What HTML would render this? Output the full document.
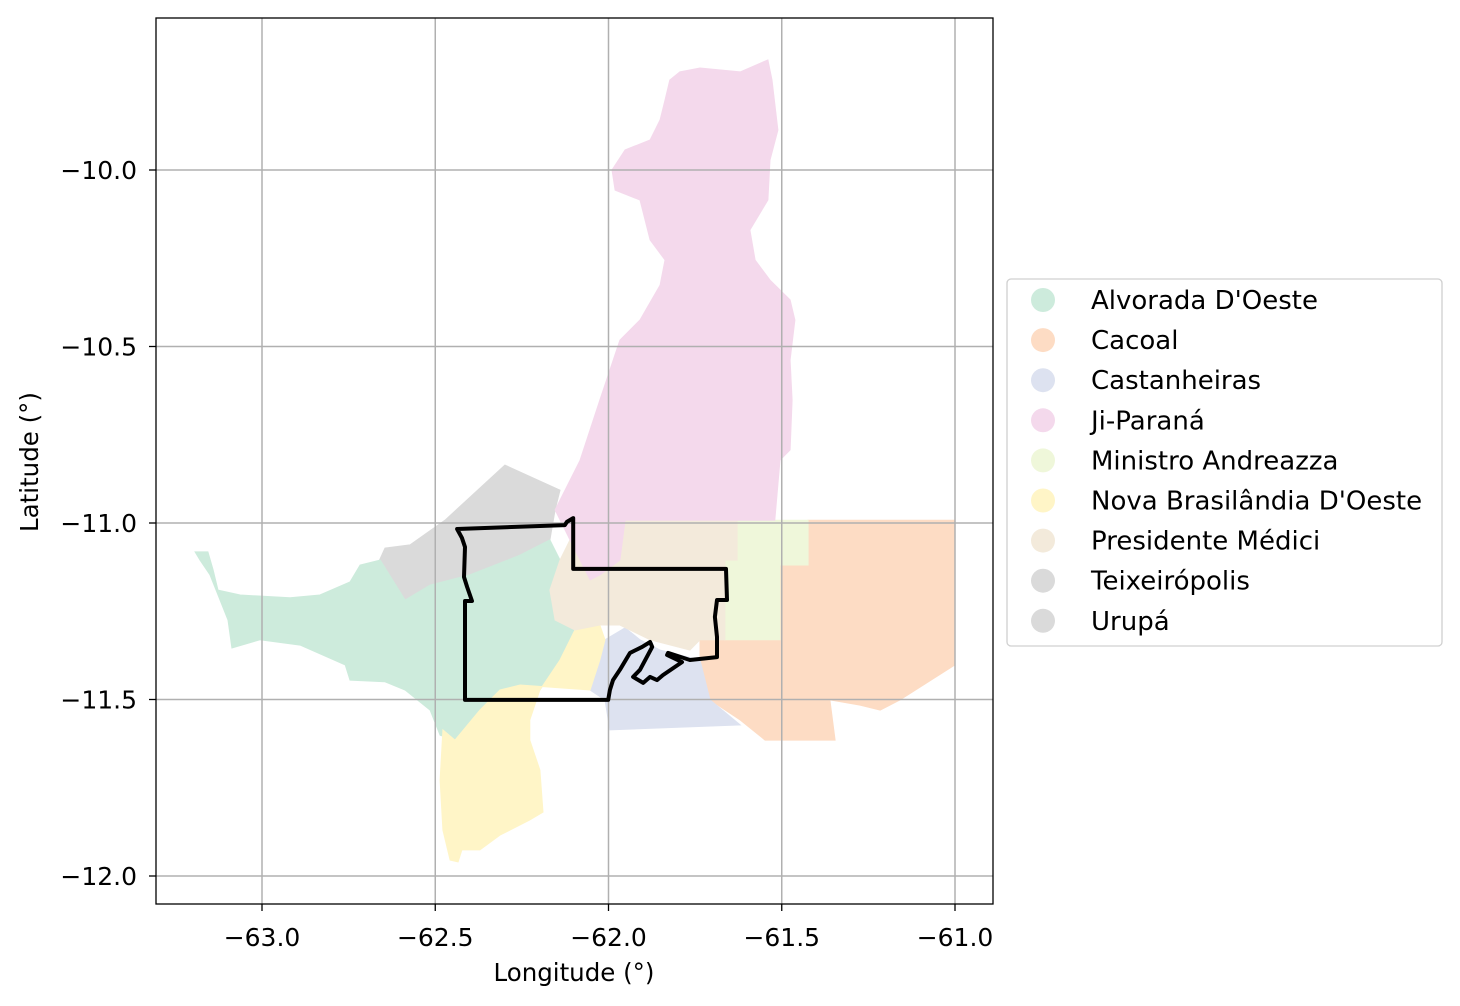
<!DOCTYPE html>
<html><head><meta charset="utf-8"><style>
html,body{margin:0;padding:0;background:#fff;}
svg{display:block;font-family:"DejaVu Sans","Liberation Sans",sans-serif;}
</style></head><body>
<svg id="chart" width="1460" height="1006" viewBox="0 0 1460 1006">
<rect x="0" y="0" width="1460" height="1006" fill="#fff"/>
<g id="regions"></g>
<g id="grid"></g>
<g id="outline"></g>
<rect x="156" y="18" width="837" height="886" fill="none" stroke="#000" stroke-width="1.3"/>
<g id="ticks"></g>
<text x="574" y="981" font-size="24.5" text-anchor="middle">Longitude (°)</text>
<text transform="translate(38,462) rotate(-90)" font-size="24.5" text-anchor="middle">Latitude (°)</text>
<g id="legend"></g>
</svg>
<script>
const names = ["Alvorada D'Oeste","Cacoal","Castanheiras","Ji-Paraná","Ministro Andreazza","Nova Brasilândia D'Oeste","Presidente Médici","Teixeirópolis","Urupá"];
const colors = ["#cdebdc","#fddcc4","#dde2f0","#f4d9ec","#eff7da","#fff5c7","#f3eadb","#dadada","#dadada"];
const xTicks = [-63.0,-62.5,-62.0,-61.5,-61.0];
const yTicks = [-10.0,-10.5,-11.0,-11.5,-12.0];
const xTickLabels = ["−63.0","−62.5","−62.0","−61.5","−61.0"];
const yTickLabels = ["−10.0","−10.5","−11.0","−11.5","−12.0"];
const grayShape = [[-62.674,-11.133],[-62.645,-11.071],[-62.573,-11.062],[-62.472,-10.992],[-62.299,-10.836],[-62.140,-10.907],[-62.154,-10.963],[-62.169,-11.048],[-62.198,-11.062],[-62.255,-11.091],[-62.400,-11.147],[-62.515,-11.176],[-62.587,-11.218]];
const alvorada = [[-63.193,-11.082],[-63.156,-11.082],[-63.141,-11.133],[-63.127,-11.190],[-63.063,-11.204],[-62.919,-11.212],[-62.833,-11.204],[-62.746,-11.167],[-62.717,-11.119],[-62.659,-11.105],[-62.587,-11.218],[-62.515,-11.176],[-62.400,-11.147],[-62.255,-11.091],[-62.198,-11.062],[-62.169,-11.048],[-62.140,-11.105],[-62.169,-11.190],[-62.154,-11.275],[-62.097,-11.303],[-62.140,-11.388],[-62.198,-11.473],[-62.313,-11.473],[-62.371,-11.530],[-62.443,-11.615],[-62.486,-11.601],[-62.515,-11.530],[-62.587,-11.473],[-62.645,-11.450],[-62.746,-11.445],[-62.760,-11.402],[-62.890,-11.346],[-63.006,-11.331],[-63.087,-11.354],[-63.098,-11.275],[-63.127,-11.204],[-63.150,-11.147],[-63.179,-11.105]];
const cacoal = [[-61.424,-10.992],[-61.000,-10.992],[-61.000,-11.402],[-61.159,-11.501],[-61.216,-11.530],[-61.274,-11.516],[-61.361,-11.501],[-61.346,-11.615],[-61.548,-11.615],[-61.620,-11.558],[-61.707,-11.501],[-61.736,-11.445],[-61.736,-11.331],[-61.505,-11.331],[-61.505,-11.119],[-61.424,-11.119]];
const castanheiras = [[-62.010,-11.331],[-61.952,-11.297],[-61.909,-11.331],[-61.851,-11.360],[-61.736,-11.388],[-61.707,-11.501],[-61.620,-11.572],[-61.996,-11.586],[-62.010,-11.501],[-62.053,-11.473],[-62.025,-11.388]];
const jiParana = [[-61.794,-9.722],[-61.736,-9.711],[-61.620,-9.722],[-61.540,-9.688],[-61.528,-9.745],[-61.511,-9.887],[-61.534,-9.972],[-61.540,-10.085],[-61.592,-10.170],[-61.577,-10.255],[-61.534,-10.312],[-61.476,-10.368],[-61.462,-10.425],[-61.476,-10.538],[-61.470,-10.652],[-61.476,-10.793],[-61.505,-10.822],[-61.520,-10.992],[-61.952,-10.992],[-61.967,-11.105],[-62.025,-11.147],[-62.053,-11.161],[-62.111,-11.048],[-62.154,-10.963],[-62.082,-10.822],[-62.025,-10.652],[-61.967,-10.482],[-61.909,-10.425],[-61.851,-10.326],[-61.837,-10.255],[-61.880,-10.198],[-61.909,-10.085],[-61.981,-10.057],[-61.990,-10.000],[-61.952,-9.943],[-61.880,-9.915],[-61.851,-9.858],[-61.837,-9.802],[-61.823,-9.745]];
const ministro = [[-61.629,-10.992],[-61.424,-10.992],[-61.424,-11.119],[-61.505,-11.119],[-61.505,-11.331],[-61.664,-11.331],[-61.664,-11.105],[-61.629,-11.105]];
const novaBrasilandia = [[-62.097,-11.303],[-62.025,-11.289],[-62.010,-11.331],[-62.025,-11.388],[-62.053,-11.473],[-62.255,-11.459],[-62.313,-11.473],[-62.371,-11.530],[-62.443,-11.615],[-62.478,-11.586],[-62.486,-11.728],[-62.478,-11.870],[-62.457,-11.955],[-62.434,-11.960],[-62.423,-11.926],[-62.371,-11.926],[-62.313,-11.884],[-62.227,-11.841],[-62.189,-11.819],[-62.198,-11.700],[-62.227,-11.615],[-62.227,-11.558],[-62.198,-11.473],[-62.140,-11.388]];
const presidente = [[-61.952,-10.992],[-61.629,-10.992],[-61.629,-11.105],[-61.664,-11.105],[-61.664,-11.331],[-61.736,-11.331],[-61.765,-11.360],[-61.880,-11.331],[-61.967,-11.289],[-62.025,-11.289],[-62.097,-11.303],[-62.154,-11.275],[-62.169,-11.190],[-62.140,-11.105],[-62.111,-11.048],[-62.053,-11.161],[-62.025,-11.147],[-61.967,-11.105]];
const studyArea = [[-62.437,-11.017],[-62.423,-11.042],[-62.414,-11.068],[-62.417,-11.153],[-62.408,-11.181],[-62.394,-11.221],[-62.414,-11.221],[-62.414,-11.501],[-62.001,-11.501],[-61.996,-11.473],[-61.987,-11.445],[-61.967,-11.416],[-61.938,-11.368],[-61.903,-11.351],[-61.880,-11.337],[-61.874,-11.351],[-61.909,-11.416],[-61.929,-11.436],[-61.900,-11.453],[-61.880,-11.436],[-61.860,-11.445],[-61.843,-11.431],[-61.788,-11.394],[-61.831,-11.374],[-61.828,-11.368],[-61.765,-11.388],[-61.687,-11.380],[-61.687,-11.323],[-61.693,-11.266],[-61.687,-11.218],[-61.658,-11.218],[-61.661,-11.130],[-61.823,-11.130],[-62.102,-11.130],[-62.102,-10.986],[-62.120,-10.997],[-62.126,-11.006]];

const X = lon => 262 + (lon + 63) * 346.5;
const Y = lat => 170 + (-10 - lat) * 353;
const NS = "http://www.w3.org/2000/svg";
const mk = (t, a) => { const e = document.createElementNS(NS, t); for (const k in a) e.setAttribute(k, a[k]); return e; };
const pts = arr => arr.map(p => X(p[0]).toFixed(1) + "," + Y(p[1]).toFixed(1)).join(" ");

const regions = document.getElementById("regions");
const shapes = [["teixeiropolis-urupa-region", grayShape, colors[7]],["alvorada-region", alvorada, colors[0]],["cacoal-region", cacoal, colors[1]],["castanheiras-region", castanheiras, colors[2]],["ministro-andreazza-region", ministro, colors[4]],["nova-brasilandia-region", novaBrasilandia, colors[5]],["presidente-medici-region", presidente, colors[6]],["ji-parana-region", jiParana, colors[3]]];
shapes.forEach(s => {
  const p = mk("polygon", {points: pts(s[1]), fill: s[2], stroke: s[2], "stroke-width": 1});
  
  
  regions.appendChild(p);
});

const grid = document.getElementById("grid");
const ticks = document.getElementById("ticks");
xTicks.forEach((v, i) => {
  const l = mk("line", {x1: X(v), x2: X(v), y1: 18, y2: 904, stroke: "#b0b0b0", "stroke-width": 1.5});
  
  
  grid.appendChild(l);
  const t = mk("line", {x1: X(v), x2: X(v), y1: 904, y2: 911, stroke: "#000", "stroke-width": 1.3});
  
  
  ticks.appendChild(t);
  const tx = mk("text", {x: X(v), y: 946, "font-size": 25, "text-anchor": "middle"});
  tx.textContent = xTickLabels[i];
  
  
  ticks.appendChild(tx);
});
yTicks.forEach((v, i) => {
  const l = mk("line", {x1: 156, x2: 993, y1: Y(v), y2: Y(v), stroke: "#b0b0b0", "stroke-width": 1.5});
  
  
  grid.appendChild(l);
  const t = mk("line", {x1: 149, x2: 156, y1: Y(v), y2: Y(v), stroke: "#000", "stroke-width": 1.3});
  
  
  ticks.appendChild(t);
  const tx = mk("text", {x: 137, y: Y(v) + 9, "font-size": 25, "text-anchor": "end"});
  tx.textContent = yTickLabels[i];
  
  
  ticks.appendChild(tx);
});

const outline = document.getElementById("outline");
const ol = mk("polygon", {points: pts(studyArea), fill: "none", stroke: "#000", "stroke-width": 4, "stroke-linejoin": "round"});


outline.appendChild(ol);

const legend = document.getElementById("legend");
const box = mk("rect", {x: 1007, y: 279, width: 435, height: 367, rx: 4, fill: "#fff", stroke: "#d0d0d0", "stroke-width": 1.3});


legend.appendChild(box);
names.forEach((n, i) => {
  const cy = 300 + i * 40.1;
  const g = mk("g", {});
  
  
  const c = mk("circle", {cx: 1043, cy: cy, r: 12, fill: colors[i]});
  
  
  const t = mk("text", {x: 1091, y: cy + 9, "font-size": 26});
  t.textContent = n;
  
  
  g.appendChild(c); g.appendChild(t);
  legend.appendChild(g);
});
</script>
</body></html>
